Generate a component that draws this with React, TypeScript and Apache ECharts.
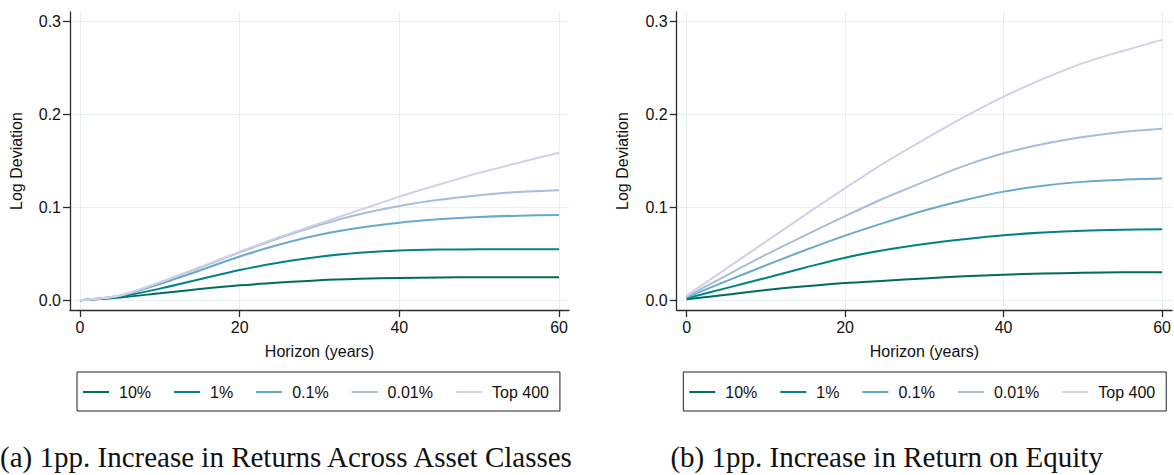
import React, { useEffect, useRef } from "react";
import * as echarts from "echarts";

// Horizon grid (years) shared by both panels
const horizon = [0, 5, 10, 15, 20, 25, 30, 35, 40, 45, 50, 55, 60];

// Panel (a): 1pp increase in returns across asset classes
const a10 = [0, 0.003, 0.0075, 0.012, 0.016, 0.019, 0.0215, 0.023, 0.024, 0.0245, 0.0247, 0.0247, 0.0247];
const a1 = [0, 0.004, 0.0125, 0.0225, 0.0325, 0.0405, 0.0468, 0.051, 0.0535, 0.0545, 0.0548, 0.0549, 0.0548];
const a01 = [0, 0.0048, 0.0175, 0.032, 0.047, 0.06, 0.0705, 0.078, 0.0834, 0.087, 0.0895, 0.091, 0.0917];
const a001 = [0, 0.005, 0.019, 0.035, 0.0515, 0.067, 0.081, 0.0925, 0.1014, 0.108, 0.113, 0.1165, 0.1183];
const aTop = [0, 0.005, 0.0195, 0.0355, 0.0523, 0.068, 0.0827, 0.097, 0.1114, 0.1245, 0.137, 0.148, 0.1587];

// Panel (b): 1pp increase in return on equity
const b10 = [0.001, 0.006, 0.011, 0.015, 0.0185, 0.021, 0.0235, 0.0257, 0.0275, 0.0287, 0.0295, 0.03, 0.0301];
const b1 = [0.002, 0.013, 0.024, 0.0352, 0.0458, 0.054, 0.0605, 0.0656, 0.0699, 0.0728, 0.0748, 0.0758, 0.0763];
const b01 = [0.003, 0.0205, 0.0375, 0.054, 0.0695, 0.0835, 0.0965, 0.1075, 0.1168, 0.1232, 0.1273, 0.1296, 0.1308];
const b001 = [0.004, 0.0265, 0.049, 0.07, 0.0905, 0.11, 0.1275, 0.1445, 0.158, 0.168, 0.1755, 0.181, 0.1845];
const bTop = [0.005, 0.034, 0.063, 0.092, 0.1205, 0.148, 0.173, 0.197, 0.219, 0.238, 0.255, 0.268, 0.28];

const groups = ["10%", "1%", "0.1%", "0.01%", "Top 400"];
const groupColors = ["#016c59", "#02818a", "#67a9cf", "#a6bddb", "#d0d1e6"];
const panelA = [a10, a1, a01, a001, aTop];
const panelB = [b10, b1, b01, b001, bTop];

const xTicks = [0, 20, 40, 60];
const yTicks = [0, 0.1, 0.2, 0.3];

const captions = [
  "(a) 1pp. Increase in Returns Across Asset Classes",
  "(b) 1pp. Increase in Return on Equity",
];

const sans = "'Liberation Sans', Arial, Helvetica, sans-serif";
const serif = "'Liberation Serif', 'Times New Roman', serif";
const axisColor = "#2b2b2b";
const gridColor = "#e7eff0";

export default function App() {
  const ref = useRef<HTMLDivElement | null>(null);

  useEffect(() => {
    if (!ref.current) return;
    const chart = echarts.init(ref.current, undefined, { renderer: "svg" });

    const grids = [
      { left: 70, top: 12, width: 499, height: 298 },
      { left: 676.7, top: 12, width: 499, height: 298 },
    ];

    const xAxes = grids.map((_, i) => ({
      type: "value",
      gridIndex: i,
      min: -1.25,
      max: 61.25,
      name: "Horizon (years)",
      nameLocation: "middle",
      nameGap: 33,
      nameTextStyle: { fontFamily: sans, fontSize: 16, color: "#111" },
      axisLine: { show: true, onZero: false, lineStyle: { color: axisColor, width: 1.3 } },
      axisTick: { show: true, length: 7, customValues: xTicks, lineStyle: { color: axisColor, width: 1.3 } },
      axisLabel: {
        customValues: xTicks,
        margin: 9,
        fontFamily: sans,
        fontSize: 16,
        color: "#111",
        formatter: (v: number) => String(v),
      },
      splitLine: { show: true, lineStyle: { color: gridColor, width: 1 } },
    }));

    const yAxes = grids.map((_, i) => ({
      type: "value",
      gridIndex: i,
      min: -0.0105,
      max: 0.31,
      name: "Log Deviation",
      nameLocation: "middle",
      nameGap: 46,
      nameTextStyle: { fontFamily: sans, fontSize: 16, color: "#111" },
      axisLine: { show: true, onZero: false, lineStyle: { color: axisColor, width: 1.3 } },
      axisTick: { show: true, length: 7, customValues: yTicks, lineStyle: { color: axisColor, width: 1.3 } },
      axisLabel: {
        customValues: yTicks,
        margin: 9,
        fontFamily: sans,
        fontSize: 16,
        color: "#111",
        formatter: (v: number) => v.toFixed(1),
      },
      splitLine: { show: true, lineStyle: { color: gridColor, width: 1 } },
    }));

    const makeSeries = (panel: number[][], idx: number) =>
      panel.map((vals, k) => ({
        name: groups[k],
        type: "line",
        xAxisIndex: idx,
        yAxisIndex: idx,
        data: horizon.map((h, j) => [h, vals[j]]),
        showSymbol: false,
        symbol: "none",
        smooth: 0.3,
        color: groupColors[k],
        lineStyle: { color: groupColors[k], width: 2 },
        z: 2 + k,
      }));

    const legendBase = {
      top: 372,
      orient: "horizontal",
      icon: "rect",
      itemWidth: 26,
      itemHeight: 2,
      itemGap: 23,
      padding: [12, 11, 11, 6],
      borderColor: "#222",
      borderWidth: 1,
      borderRadius: 0,
      data: groups,
      selectedMode: false,
      textStyle: { fontFamily: sans, fontSize: 16, color: "#111", padding: [0, 0, 0, 5] },
    };

    chart.setOption({
      animation: false,
      backgroundColor: "#ffffff",
      grid: grids,
      xAxis: xAxes,
      yAxis: yAxes,
      legend: [
        { ...legendBase, left: 77 },
        { ...legendBase, left: 683.3 },
      ],
      series: [...makeSeries(panelA, 0), ...makeSeries(panelB, 1)],
      graphic: [
        {
          type: "text",
          x: 286,
          y: 457,
          style: { text: captions[0], font: `29px ${serif}`, fill: "#111", align: "center", verticalAlign: "middle" },
        },
        {
          type: "text",
          x: 886.7,
          y: 457,
          style: { text: captions[1], font: `29px ${serif}`, fill: "#111", align: "center", verticalAlign: "middle" },
        },
      ],
    });

    return () => chart.dispose();
  }, []);

  return (
    <div
      ref={ref}
      style={{ position: "absolute", left: 0, top: 0, width: 1174, height: 475, background: "#fff" }}
    />
  );
}
